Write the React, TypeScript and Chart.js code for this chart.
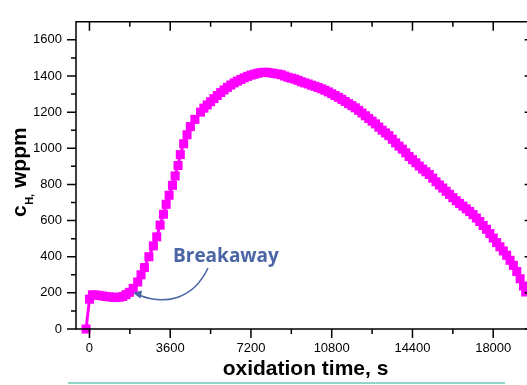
import { useEffect, useRef } from 'react';
import { Chart, registerables } from 'chart.js';

Chart.register(...registerables);

// oxidation time, s
const TIME_S = [
  -150, 0, 130, 280, 430, 580, 730, 880, 1030, 1180, 1330, 1480, 1630, 1780, 1950, 2150, 2300,
  2450, 2650, 2850, 3000, 3150, 3300, 3420, 3550, 3700, 3820, 3950, 4050, 4200, 4350, 4500,
  4700, 4950, 5100, 5250, 5400, 5550, 5700, 5850, 6000, 6150, 6300, 6450, 6600, 6750, 6900,
  7050, 7200, 7350, 7500, 7650, 7800, 7950, 8100, 8250, 8400, 8550, 8700, 8850, 9000, 9150,
  9300, 9450, 9600, 9750, 9900, 10050, 10200, 10350, 10500, 10650, 10800, 10950, 11100, 11250,
  11400, 11550, 11700, 11850, 12000, 12150, 12300, 12450, 12600, 12750, 12900, 13050, 13200,
  13350, 13500, 13650, 13800, 13950, 14100, 14250, 14400, 14550, 14700, 14850, 15000, 15150,
  15300, 15450, 15600, 15750, 15900, 16050, 16200, 16350, 16500, 16650, 16800, 16950, 17100,
  17250, 17400, 17550, 17700, 17850, 18000, 18150, 18300, 18450, 18600, 18750, 18900, 19050,
  19200, 19350, 19450,
];
// c_H, wppm
const CH_WPPM = [
  0, 165, 189, 188, 186, 183, 180, 178, 176, 174, 176, 180, 190, 203, 225, 260, 300,
  340, 400, 460, 510, 575, 635, 690, 740, 795, 847, 905, 965, 1025, 1075, 1120,
  1160, 1200, 1222, 1240, 1258, 1275, 1292, 1308, 1323, 1337, 1350, 1362, 1372, 1381, 1390,
  1398, 1405, 1410, 1415, 1419, 1421, 1420, 1417, 1414, 1411, 1407, 1400, 1393, 1388, 1383,
  1376, 1368, 1362, 1356, 1349, 1343, 1336, 1329, 1321, 1312, 1302, 1292, 1282, 1271,
  1259, 1247, 1236, 1224, 1210, 1195, 1180, 1165, 1150, 1135, 1117, 1100, 1085,
  1070, 1050, 1030, 1012, 995, 975, 955, 937, 920, 902, 885, 870, 855,
  835, 815, 797, 780, 762, 745, 727, 710, 695, 680, 665, 650, 633,
  614, 595, 573, 552, 528, 503, 478, 455, 432, 408, 380, 352, 318,
  278, 238, 205,
];

const X_TICKS = [0, 3600, 7200, 10800, 14400, 18000];
const X_MINOR = [1800, 5400, 9000, 12600, 16200];
const Y_TICKS = [0, 200, 400, 600, 800, 1000, 1200, 1400, 1600];
const Y_MINOR = [100, 300, 500, 700, 900, 1100, 1300, 1500];

const X_TITLE = 'oxidation time, s';
const Y_TITLE_MAIN = 'c';
const Y_TITLE_SUB = 'H,';
const Y_TITLE_REST = ' wppm';
const NOTE = 'Breakaway';

const MAGENTA = '#ff00ff';
const NOTE_BLUE = '#4a65a6';

const framePlugin = {
  id: 'frame',
  afterDatasetsDraw(chart: any) {
    const { ctx, chartArea, scales } = chart;
    const xs = scales.x;
    const ys = scales.y;
    const { left, right, top, bottom } = chartArea;
    ctx.save();

    // annotation arrow
    ctx.strokeStyle = NOTE_BLUE;
    ctx.fillStyle = NOTE_BLUE;
    ctx.lineWidth = 1.6;
    ctx.beginPath();
    ctx.moveTo(208, 268);
    ctx.bezierCurveTo(192, 302, 162, 304, 140, 295.5);
    ctx.stroke();
    ctx.beginPath();
    ctx.moveTo(133, 293);
    ctx.lineTo(142, 290.5);
    ctx.lineTo(140.5, 298.5);
    ctx.closePath();
    ctx.fill();

    ctx.font = 'bold 19px "Open Sans"';
    ctx.textAlign = 'left';
    ctx.textBaseline = 'alphabetic';
    ctx.fillText(NOTE, 173, 262);

    // frame
    ctx.strokeStyle = '#000';
    ctx.lineWidth = 1.5;
    ctx.beginPath();
    ctx.rect(left, top, right - left, bottom - top);
    ctx.stroke();

    ctx.beginPath();
    const tickX = (v: number, len: number) => {
      const px = xs.getPixelForValue(v);
      ctx.moveTo(px, bottom);
      ctx.lineTo(px, bottom + len);
      ctx.moveTo(px, top);
      ctx.lineTo(px, top + len);
    };
    const tickY = (v: number, len: number) => {
      const py = ys.getPixelForValue(v);
      ctx.moveTo(left - len, py);
      ctx.lineTo(left, py);
      ctx.moveTo(right - len, py);
      ctx.lineTo(right, py);
    };
    X_TICKS.forEach((v) => tickX(v, 9));
    X_MINOR.forEach((v) => tickX(v, 5));
    Y_TICKS.forEach((v) => tickY(v, 9));
    Y_MINOR.forEach((v) => tickY(v, 5));
    ctx.stroke();

    // x title
    ctx.fillStyle = '#000';
    ctx.font = 'bold 21px "Liberation Sans", Arial, sans-serif';
    ctx.textAlign = 'center';
    ctx.fillText(X_TITLE, 305.5, 375);

    // y title (rotated)
    ctx.translate(25.5, 217);
    ctx.rotate(-Math.PI / 2);
    ctx.textAlign = 'left';
    ctx.font = 'bold 21px "Liberation Sans", Arial, sans-serif';
    ctx.fillText(Y_TITLE_MAIN, 0, 0);
    let w = ctx.measureText(Y_TITLE_MAIN).width;
    ctx.font = 'bold 11px "Liberation Sans", Arial, sans-serif';
    ctx.fillText(Y_TITLE_SUB, w + 0.5, 7);
    w += ctx.measureText(Y_TITLE_SUB).width + 0.5;
    ctx.font = 'bold 21px "Liberation Sans", Arial, sans-serif';
    ctx.fillText(Y_TITLE_REST, w, 0);
    ctx.restore();

    // teal rule at the bottom
    ctx.save();
    ctx.strokeStyle = '#8fd6c6';
    ctx.lineWidth = 2;
    ctx.beginPath();
    ctx.moveTo(68, 383);
    ctx.lineTo(505, 383);
    ctx.stroke();
    ctx.restore();
  },
};

export default function App() {
  const ref = useRef<HTMLCanvasElement>(null);

  useEffect(() => {
    if (!ref.current) return;
    const tickFont = { family: '"Liberation Sans", Arial, sans-serif', size: 13 };
    const chart = new Chart(ref.current, {
      type: 'line',
      data: {
        datasets: [
          {
            data: TIME_S.map((t, i) => ({ x: t, y: CH_WPPM[i] })),
            borderColor: MAGENTA,
            backgroundColor: MAGENTA,
            borderWidth: 3,
            pointStyle: 'rect',
            pointRadius: 6.4,
            pointBorderWidth: 0,
            pointBackgroundColor: MAGENTA,
            tension: 0,
            clip: false as any,
          },
        ],
      },
      options: {
        responsive: false,
        animation: false,
        devicePixelRatio: 1,
        layout: { padding: { top: 5, right: 5, left: 0, bottom: 0 } },
        plugins: { legend: { display: false }, tooltip: { enabled: false } },
        scales: {
          x: {
            type: 'linear',
            min: -600,
            max: 19800,
            afterBuildTicks: (s: any) => {
              s.ticks = X_TICKS.map((v) => ({ value: v }));
            },
            afterFit: (s: any) => {
              s.height = 56;
            },
            ticks: {
              font: tickFont,
              color: '#000',
              padding: 12,
              maxRotation: 0,
              autoSkip: false,
              callback: (v: any) => String(v),
            },
            grid: { display: false, drawTicks: false },
            border: { display: false },
          },
          y: {
            type: 'linear',
            min: 0,
            max: 1700,
            afterBuildTicks: (s: any) => {
              s.ticks = Y_TICKS.map((v) => ({ value: v }));
            },
            afterFit: (s: any) => {
              s.width = 76;
            },
            ticks: {
              font: tickFont,
              color: '#000',
              padding: 14,
              autoSkip: false,
              callback: (v: any) => String(v),
            },
            grid: { display: false, drawTicks: false },
            border: { display: false },
          },
        },
      },
      plugins: [framePlugin],
    });
    return () => chart.destroy();
  }, []);

  return (
    <div
      style={{
        position: 'fixed',
        left: 0,
        top: 0,
        width: 527,
        height: 385,
        overflow: 'hidden',
        background: '#fff',
      }}
    >
      <canvas ref={ref} width={540} height={385} style={{ display: 'block' }} />
    </div>
  );
}
